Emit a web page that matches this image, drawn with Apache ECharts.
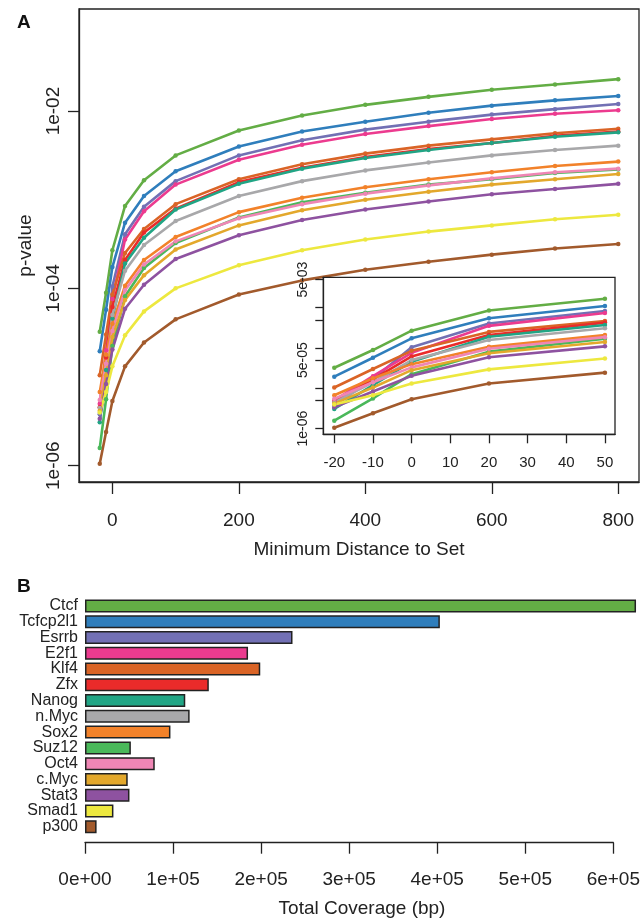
<!DOCTYPE html>
<html><head><meta charset="utf-8">
<script src="https://cdn.jsdelivr.net/npm/echarts@6/dist/echarts.min.js"></script>
<style>html,body{margin:0;padding:0;background:#fff}#c{width:643px;height:920px}</style>
</head><body><div id="c"></div>
<script>
// ---- data ----
const distances = [-20, -10, 0, 20, 50, 100, 200, 300, 400, 500, 600, 700, 800];
const factors = ['Ctcf','Tcfcp2l1','Esrrb','E2f1','Klf4','Zfx','Nanog','n.Myc','Sox2','Suz12','Oct4','c.Myc','Stat3','Smad1','p300'];
const colors = ['#63AD45','#2F7EBC','#7270B4','#EC3B8F','#DA6426','#EA2B2A','#21A585','#A8A8AA','#F2822A','#4AB85A','#EF86B5','#E3A82C','#8E52A0','#EDE83F','#A25A2C'];
const pCtcf     = [3.24e-5, 8.91e-5, 2.69e-4, 8.51e-4, 1.66e-3, 3.16e-3, 6.03e-3, 8.91e-3, 1.175e-2, 1.445e-2, 1.738e-2, 1.995e-2, 2.29e-2];
const pTcfcp2l1 = [1.95e-5, 5.75e-5, 1.74e-4, 5.50e-4, 1.10e-3, 2.09e-3, 3.98e-3, 5.89e-3, 7.59e-3, 9.55e-3, 1.15e-2, 1.32e-2, 1.48e-2];
const pEsrrb    = [3.80e-6, 1.70e-5, 1.05e-4, 4.07e-4, 8.32e-4, 1.62e-3, 3.16e-3, 4.68e-3, 6.17e-3, 7.59e-3, 9.12e-3, 1.05e-2, 1.20e-2];
const pE2f1     = [5.01e-6, 2.00e-5, 7.59e-5, 3.55e-4, 7.41e-4, 1.48e-3, 2.82e-3, 4.17e-3, 5.50e-3, 6.76e-3, 8.13e-3, 9.33e-3, 1.02e-2];
const pKlf4     = [1.05e-5, 3.02e-5, 8.51e-5, 2.51e-4, 4.68e-4, 8.91e-4, 1.70e-3, 2.51e-3, 3.31e-3, 4.07e-3, 4.79e-3, 5.62e-3, 6.31e-3];
const pZfx      = [4.57e-6, 1.66e-5, 6.17e-5, 2.09e-4, 4.27e-4, 7.94e-4, 1.58e-3, 2.29e-3, 3.02e-3, 3.72e-3, 4.37e-3, 5.25e-3, 5.89e-3];
const pNanog    = [3.09e-6, 1.20e-5, 4.57e-5, 1.91e-4, 3.72e-4, 7.76e-4, 1.51e-3, 2.24e-3, 2.95e-3, 3.63e-3, 4.37e-3, 5.13e-3, 5.75e-3];
const pNMyc     = [4.47e-6, 1.41e-5, 5.01e-5, 1.58e-4, 3.09e-4, 5.75e-4, 1.10e-3, 1.62e-3, 2.14e-3, 2.63e-3, 3.16e-3, 3.63e-3, 4.07e-3];
const pSox2     = [6.76e-6, 1.78e-5, 3.98e-5, 1.07e-4, 2.09e-4, 3.80e-4, 7.24e-4, 1.05e-3, 1.38e-3, 1.70e-3, 2.04e-3, 2.40e-3, 2.69e-3];
const pSuz12    = [1.58e-6, 5.62e-6, 2.24e-5, 8.13e-5, 1.70e-4, 3.24e-4, 6.31e-4, 9.33e-4, 1.20e-3, 1.48e-3, 1.70e-3, 2.00e-3, 2.19e-3];
const pOct4     = [5.50e-6, 1.41e-5, 3.31e-5, 9.55e-5, 1.86e-4, 3.39e-4, 6.17e-4, 8.91e-4, 1.17e-3, 1.45e-3, 1.74e-3, 2.04e-3, 2.24e-3];
const pCMyc     = [4.17e-6, 1.05e-5, 2.82e-5, 7.41e-5, 1.41e-4, 2.75e-4, 5.13e-4, 7.59e-4, 1.00e-3, 1.23e-3, 1.48e-3, 1.70e-3, 1.95e-3];
const pStat3    = [3.39e-6, 8.32e-6, 2.04e-5, 5.89e-5, 1.10e-4, 2.14e-4, 3.98e-4, 5.89e-4, 7.76e-4, 9.55e-4, 1.15e-3, 1.32e-3, 1.51e-3];
const pSmad1    = [3.98e-6, 6.76e-6, 1.32e-5, 2.95e-5, 5.50e-5, 1.00e-4, 1.82e-4, 2.69e-4, 3.55e-4, 4.37e-4, 5.13e-4, 6.03e-4, 6.76e-4];
const pP300     = [1.05e-6, 2.40e-6, 5.37e-6, 1.32e-5, 2.45e-5, 4.47e-5, 8.51e-5, 1.23e-4, 1.62e-4, 2.00e-4, 2.40e-4, 2.82e-4, 3.16e-4];
const coverage  = [632000, 407000, 238000, 187000, 201000, 142000, 115000, 120000, 98000, 52600, 80000, 49000, 51000, 32600, 13300];
const mainTicksY = [1e-6, 1e-4, 1e-2];
const insetTicksY = [1e-6, 5e-6, 1e-5, 5e-5, 1e-4, 5e-4, 1e-3, 5e-3];
const insetLabelsY = [1e-6, 5e-5, 5e-3];
const mainTicksX = [0, 200, 400, 600, 800];
const insetTicksX = [-20, -10, 0, 10, 20, 30, 40, 50];
const insetMaxDist = 50;

const pSeries = [pCtcf,pTcfcp2l1,pEsrrb,pE2f1,pKlf4,pZfx,pNanog,pNMyc,pSox2,pSuz12,pOct4,pCMyc,pStat3,pSmad1,pP300];

// ---- helpers ----
const FONT = "'Liberation Sans', Arial, Helvetica, sans-serif";
const INK = '#222';
function fmtSci(p) {
  if (p === 0) return '0e+00';
  let e = Math.floor(Math.log10(Math.abs(p)) + 1e-9);
  let m = Math.round(p / Math.pow(10, e));
  if (m >= 10) { m = 1; e += 1; }
  const ae = Math.abs(e);
  return m + 'e' + (e < 0 ? '-' : '+') + (ae < 10 ? '0' + ae : '' + ae);
}
const lg = v => Math.log10(v);

const series = [];
factors.forEach((f, i) => {
  const pts = distances.map((d, j) => [d, lg(pSeries[i][j])]);
  series.push({
    name: f, type: 'line', xAxisIndex: 0, yAxisIndex: 0,
    data: pts, symbol: 'circle', symbolSize: 4.5, showSymbol: true,
    lineStyle: { width: 2.6, color: colors[i] }, itemStyle: { color: colors[i] },
    animation: false, silent: true, z: 2
  });
  series.push({
    name: f + ' inset', type: 'line', xAxisIndex: 1, yAxisIndex: 1,
    data: pts.filter(p => p[0] <= insetMaxDist), symbol: 'circle', symbolSize: 4.5,
    lineStyle: { width: 2.6, color: colors[i] }, itemStyle: { color: colors[i] },
    animation: false, silent: true, z: 5
  });
});
series.push({
  name: 'coverage', type: 'bar', xAxisIndex: 2, yAxisIndex: 2,
  data: coverage.map((v, i) => ({ value: v, itemStyle: { color: colors[i] } })),
  barWidth: 13,
  itemStyle: { borderColor: INK, borderWidth: 1.5 },
  animation: false, silent: true
});

const tickStyle = { color: INK, width: 1.3 };
const option = {
  animation: false,
  textStyle: { fontFamily: FONT },
  title: [
    { text: 'A', left: 12, top: 8, textStyle: { fontSize: 19, fontWeight: 'bold', color: '#111', fontFamily: FONT } },
    { text: 'B', left: 12, top: 572, textStyle: { fontSize: 19, fontWeight: 'bold', color: '#111', fontFamily: FONT } },
    { text: 'Total Coverage (bp)', left: 357, top: 894, textAlign: 'center', textStyle: { fontSize: 19, fontWeight: 'normal', color: INK, fontFamily: FONT } }
  ],
  grid: [
    { left: 79, top: 9, width: 560, height: 473, show: true, borderColor: INK, borderWidth: 1.3, backgroundColor: 'transparent', containLabel: false },
    { left: 323.3, top: 277.3, width: 291.7, height: 157, show: true, borderColor: INK, borderWidth: 1.3, backgroundColor: '#fff', z: 3 },
    { left: 85, top: 598.1, width: 563.8, height: 236.5 },
    { left: 85, top: 841.7, width: 528.6, height: 1 }
  ],
  xAxis: [
    { gridIndex: 0, type: 'value', min: -52.8, max: 832.8,
      axisLine: { show: true, onZero: false, lineStyle: tickStyle }, splitLine: { show: false },
      axisTick: { show: true, customValues: mainTicksX, length: 12, lineStyle: tickStyle },
      axisLabel: { customValues: mainTicksX, fontSize: 19, color: INK, margin: 29, fontFamily: FONT },
      name: 'Minimum Distance to Set', nameLocation: 'middle', nameGap: 58,
      nameTextStyle: { fontSize: 19, color: INK, fontFamily: FONT } },
    { gridIndex: 1, type: 'value', min: -22.84, max: 52.6, z: 6,
      axisLine: { show: true, onZero: false, lineStyle: tickStyle }, splitLine: { show: false },
      axisTick: { show: true, customValues: insetTicksX, length: 9, lineStyle: tickStyle },
      axisLabel: { customValues: insetTicksX, fontSize: 15, color: INK, margin: 21, fontFamily: FONT } },
    { gridIndex: 2, type: 'value', min: 0, max: 640000, show: false, splitLine: { show: false } },
    { gridIndex: 3, type: 'value', min: 0, max: 600000, interval: 100000,
      axisLine: { show: true, onZero: false, lineStyle: tickStyle }, splitLine: { show: false },
      axisTick: { show: true, length: 11, lineStyle: tickStyle },
      axisLabel: { fontSize: 19, color: INK, margin: 28, fontFamily: FONT, formatter: v => fmtSci(v) } }
  ],
  yAxis: [
    { gridIndex: 0, type: 'value', min: -6.184, max: -0.849,
      axisLine: { show: true, onZero: false, lineStyle: tickStyle }, splitLine: { show: false },
      axisTick: { show: true, customValues: mainTicksY.map(lg), length: 11, lineStyle: tickStyle },
      axisLabel: { customValues: mainTicksY.map(lg), rotate: 90, fontSize: 19, color: INK, margin: 16, fontFamily: FONT,
        formatter: v => fmtSci(Math.pow(10, v)) },
      name: 'p-value', nameLocation: 'middle', nameGap: 44, nameRotate: 90,
      nameTextStyle: { fontSize: 19, color: INK, fontFamily: FONT } },
    { gridIndex: 1, type: 'value', min: -6.14, max: -2.246, z: 6,
      axisLine: { show: true, onZero: false, lineStyle: tickStyle }, splitLine: { show: false },
      axisTick: { show: true, customValues: insetTicksY.map(lg), length: 8, lineStyle: tickStyle },
      axisLabel: { customValues: insetLabelsY.map(lg), rotate: 90, fontSize: 14, color: INK, margin: 13, fontFamily: FONT,
        formatter: v => fmtSci(Math.pow(10, v)) } },
    { gridIndex: 2, type: 'category', data: factors, inverse: true,
      axisLine: { show: false }, axisTick: { show: false }, splitLine: { show: false },
      axisLabel: { interval: 0, fontSize: 16, color: INK, margin: 7, fontFamily: FONT } },
    { gridIndex: 3, type: 'value', show: false, min: 0, max: 1 }
  ],
  series: series
};
const chart = echarts.init(document.getElementById('c'), null, { renderer: 'canvas' });
chart.setOption(option);
</script>
</body></html>
